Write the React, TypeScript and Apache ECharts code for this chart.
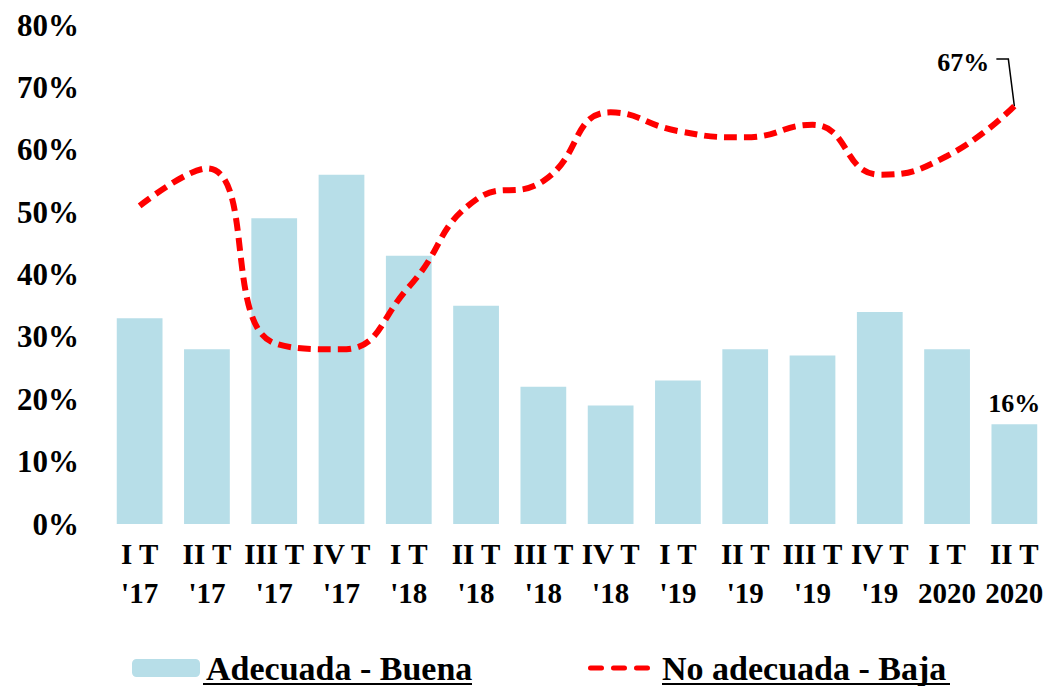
import React, { useEffect, useRef } from "react";
import * as echarts from "echarts";

const categories = [
  "I T\n'17", "II T\n'17", "III T\n'17", "IV T\n'17",
  "I T\n'18", "II T\n'18", "III T\n'18", "IV T\n'18",
  "I T\n'19", "II T\n'19", "III T\n'19", "IV T\n'19",
  "I T\n2020", "II T\n2020",
];
const adecuadaBuena = [33, 28, 49, 56, 43, 35, 22, 19, 23, 28, 27, 34, 28, 16];
const noAdecuadaBaja = [51, 57, 29, 28, 38, 52, 55, 66, 63, 62, 64, 56, 59, 67];
const yTicks = { min: 0, max: 80, interval: 10 };
const seriesNames = ["Adecuada - Buena", "No adecuada - Baja"];

const FONT = "'Liberation Serif', 'Times New Roman', serif";
const DASH_ICON = "path://M2,0h11a2,2 0 0 1 0,5h-11a2,2 0 0 1 0,-5z M25,0h11a2,2 0 0 1 0,5h-11a2,2 0 0 1 0,-5z M48,0h11a2,2 0 0 1 0,5h-11a2,2 0 0 1 0,-5z";

export default function App() {
  const ref = useRef<HTMLDivElement>(null);
  useEffect(() => {
    document.body.style.margin = "0";
    const chart = echarts.init(ref.current!, null, { renderer: "svg" });
    const lastIdx = noAdecuadaBaja.length - 1;
    const barData = adecuadaBuena.map((v, i) =>
      i === adecuadaBuena.length - 1
        ? {
            value: v,
            label: {
              show: true,
              position: "top",
              distance: 8,
              formatter: "{c}%",
              color: "#000",
              fontSize: 26,
              fontWeight: "bold",
              fontFamily: FONT,
            },
          }
        : v
    );
    chart.setOption({
      animation: false,
      textStyle: { fontFamily: FONT },
      grid: { left: 106, width: 943, top: 25, bottom: 162, containLabel: false },
      legend: [
        {
          data: [seriesNames[0]],
          left: 127,
          top: 646,
          itemWidth: 68,
          itemHeight: 18,
          textStyle: {
            fontSize: 34,
            fontWeight: "bold",
            fontFamily: FONT,
            color: "#000",
            padding: [0, 0, 0, 1],
          },
        },
        {
          data: [{ name: seriesNames[1], icon: DASH_ICON }],
          left: 583,
          top: 646,
          itemWidth: 62,
          itemHeight: 5,
          itemStyle: { color: "#FF0000" },
          textStyle: {
            fontSize: 34,
            fontWeight: "bold",
            fontFamily: FONT,
            color: "#000",
            padding: [0, 0, 0, 7],
          },
        },
      ],
      xAxis: {
        type: "category",
        data: categories,
        axisLine: { show: false },
        axisTick: { show: false },
        axisLabel: {
          interval: 0,
          margin: 10,
          color: "#000",
          fontSize: 29,
          fontWeight: "bold",
          fontFamily: FONT,
          lineHeight: 39,
        },
      },
      yAxis: {
        type: "value",
        min: yTicks.min,
        max: yTicks.max,
        interval: yTicks.interval,
        splitLine: { show: false },
        axisLine: { show: false },
        axisTick: { show: false },
        axisLabel: {
          formatter: "{value}%",
          margin: 27,
          color: "#000",
          fontSize: 31,
          fontWeight: "bold",
          fontFamily: FONT,
        },
      },
      series: [
        {
          name: seriesNames[0],
          type: "bar",
          data: barData,
          barCategoryGap: "32%",
          itemStyle: { color: "#B7DEE8" },
        },
        {
          name: seriesNames[1],
          type: "line",
          data: noAdecuadaBaja,
          smooth: 0.5,
          symbol: "none",
          lineStyle: { color: "#FF0000", width: 6, type: [13, 7], cap: "butt" },
          itemStyle: { color: "#FF0000" },
          endLabel: {
            show: true,
            formatter: "{c}%",
            offset: [-85, -44],
            color: "#000",
            fontSize: 26,
            fontWeight: "bold",
            fontFamily: FONT,
          },
          z: 5,
        },
      ],
    });
    const p = chart.convertToPixel({ seriesIndex: 1 }, [lastIdx, noAdecuadaBaja[lastIdx]]) as number[];
    chart.setOption({
      graphic: [
        {
          type: "polyline",
          shape: {
            points: [
              [p[0] - 18, p[1] - 47],
              [p[0] - 6, p[1] - 47],
              [p[0], p[1]],
            ],
          },
          style: { stroke: "#000", lineWidth: 1.5, fill: null },
        },
        {
          type: "line",
          shape: { x1: 203, y1: 684, x2: 472, y2: 684 },
          style: { stroke: "#000", lineWidth: 2 },
        },
        {
          type: "line",
          shape: { x1: 662, y1: 684, x2: 950, y2: 684 },
          style: { stroke: "#000", lineWidth: 2 },
        },
      ],
    });
    return () => chart.dispose();
  }, []);
  return <div ref={ref} style={{ width: 1048, height: 686 }} />;
}
